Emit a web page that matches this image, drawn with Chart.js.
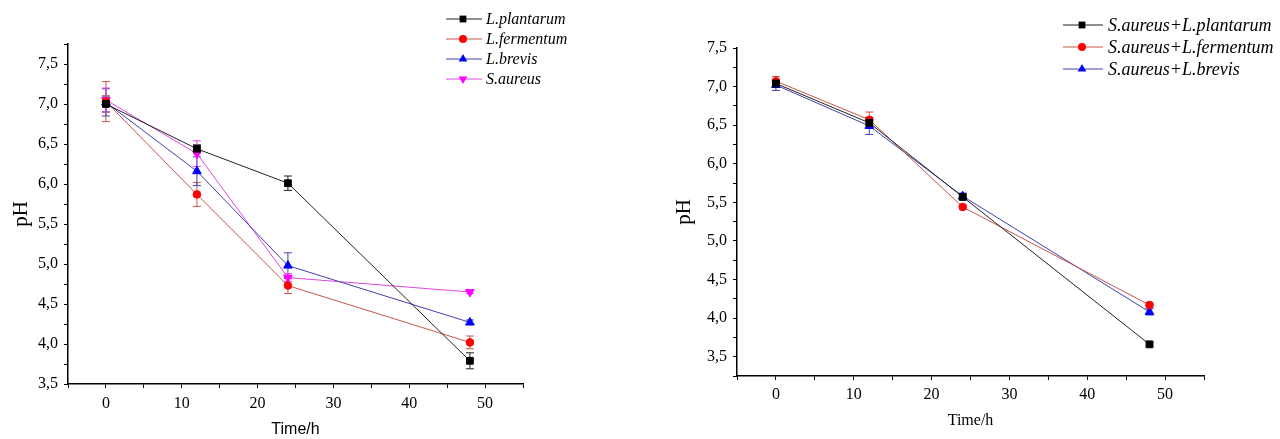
<!DOCTYPE html>
<html>
<head>
<meta charset="utf-8">
<script src="https://cdn.jsdelivr.net/npm/chart.js@4.4.1/dist/chart.umd.min.js"></script>
<style>
  html, body { margin: 0; padding: 0; background: #fff; }
  body { width: 1280px; height: 439px; position: relative; overflow: hidden; }
  canvas { position: absolute; top: 0; }
  .row { position: absolute; display: flex; align-items: center; height: 20px;
         font-family: 'Liberation Serif', serif; font-style: italic; color: #000; white-space: nowrap; }
  .row svg { display: block; }
</style>
</head>
<body>
<canvas id="left" width="640" height="439" style="left:0"></canvas>
<canvas id="right" width="640" height="439" style="left:640px"></canvas>
<div id="legends"></div>
<script>
// sampling times (h)
const times = [0, 12, 24, 48];
const xTickLabels = [0, 10, 20, 30, 40, 50];

// left panel - single cultures
const leftNames = ['L.plantarum', 'L.fermentum', 'L.brevis', 'S.aureus'];
const plantarum    = [7.00, 6.44, 6.01, 3.79];
const plantarumErr = [0.10, 0.05, 0.09, 0.10];
const fermentum    = [7.03, 5.87, 4.73, 4.02];
const fermentumErr = [0.25, 0.15, 0.10, 0.08];
const brevis       = [7.02, 6.16, 4.98, 4.27];
const brevisErr    = [0.17, 0.18, 0.16, 0.03];
const aureus       = [7.05, 6.38, 4.83, 4.65];
const aureusErr    = [0.15, 0.16, 0.05, 0.02];

// right panel - co-cultures
const rightNames = ['S.aureus+L.plantarum', 'S.aureus+L.fermentum', 'S.aureus+L.brevis'];
const coPlantarum    = [7.04, 6.53, 5.57, 3.66];
const coPlantarumErr = [0.05, 0.07, 0.03, 0.02];
const coFermentum    = [7.07, 6.57, 5.44, 4.17];
const coFermentumErr = [0.06, 0.10, 0.03, 0.03];
const coBrevis       = [7.02, 6.49, 5.58, 4.08];
const coBrevisErr    = [0.07, 0.11, 0.04, 0.04];

// look of each series
const STYLES = {
  black:   { line: '#222',             mark: '#000',    shape: 'rect',     rot: 0,   r: 4.8 },
  red:     { line: 'rgb(200,85,75)',   mark: '#ff0000', shape: 'circle',   rot: 0,   r: 3.8 },
  blue:    { line: 'rgb(65,65,175)',   mark: '#0000ff', shape: 'triangle', rot: 0,   r: 5 },
  magenta: { line: 'rgb(225,70,225)',  mark: '#ff00ff', shape: 'triangle', rot: 180, r: 5 }
};

function makeSet(label, values, errors, st) {
  return {
    label,
    data: times.map((t, i) => ({ x: t, y: values[i] })),
    errors,
    borderColor: st.line,
    borderWidth: 1,
    tension: 0,
    pointStyle: st.shape,
    pointRotation: st.rot,
    pointRadius: st.r,
    pointBackgroundColor: st.mark,
    pointBorderColor: st.mark,
    pointBorderWidth: 1
  };
}

// vertical error bars with caps
const errorBars = {
  id: 'errorBars',
  beforeDatasetsDraw(chart) {
    const { ctx } = chart;
    const xs = chart.scales.x, ys = chart.scales.y;
    chart.data.datasets.forEach(ds => {
      ctx.save();
      ctx.strokeStyle = ds.borderColor;
      ctx.lineWidth = 1;
      ds.data.forEach((p, j) => {
        const e = ds.errors[j];
        const px = xs.getPixelForValue(p.x);
        const top = ys.getPixelForValue(p.y + e);
        const bot = ys.getPixelForValue(p.y - e);
        ctx.beginPath();
        ctx.moveTo(px, top); ctx.lineTo(px, bot);
        ctx.moveTo(px - 4, top); ctx.lineTo(px + 4, top);
        ctx.moveTo(px - 4, bot); ctx.lineTo(px + 4, bot);
        ctx.stroke();
      });
      ctx.restore();
    });
  }
};

function pHLabel(v) {
  const twice = v * 2;
  if (Math.abs(twice - Math.round(twice)) > 1e-6) return '';
  return v.toFixed(1).replace('.', ',');
}

function makeChart(id, datasets, g) {
  return new Chart(document.getElementById(id), {
    type: 'line',
    data: { datasets },
    options: {
      responsive: false,
      animation: false,
      layout: { padding: { left: 0, top: g.top, right: g.right, bottom: 0 } },
      plugins: { legend: { display: false }, tooltip: { enabled: false } },
      scales: {
        x: {
          type: 'linear', min: -5, max: 55,
          afterFit: s => { s.height = g.xh; },
          ticks: {
            stepSize: 5, autoSkip: false, maxRotation: 0, padding: g.xpad, color: '#000',
            font: { family: 'Liberation Serif', size: g.tick },
            callback: v => xTickLabels.includes(v) ? String(v) : ''
          },
          grid: { drawOnChartArea: false, tickLength: 4, color: '#000' },
          border: { color: '#000', width: 1.5 },
          title: {
            display: true, text: 'Time/h', color: '#000',
            font: { family: g.xTitleFont, size: 16 },
            padding: { top: 0, bottom: g.xTitlePad }
          }
        },
        y: {
          min: g.ymin, max: g.ymax,
          afterFit: s => { s.width = g.yw; },
          ticks: {
            stepSize: 0.25, autoSkip: false, padding: g.ypad, color: '#000',
            font: { family: 'Liberation Serif', size: g.tick },
            callback: v => pHLabel(v)
          },
          grid: { drawOnChartArea: false, tickLength: 4, color: '#000' },
          border: { color: '#000', width: 1.5 },
          title: {
            display: true, text: 'pH', color: '#000',
            font: { family: 'Liberation Serif', size: g.yTitle },
            padding: { top: g.yTitlePad, bottom: 0 }
          }
        }
      }
    },
    plugins: [errorBars]
  });
}

makeChart('left', [
  makeSet(leftNames[0], plantarum, plantarumErr, STYLES.black),
  makeSet(leftNames[1], fermentum, fermentumErr, STYLES.red),
  makeSet(leftNames[2], brevis, brevisErr, STYLES.blue),
  makeSet(leftNames[3], aureus, aureusErr, STYLES.magenta)
], { top: 44, right: 117, yw: 68, xh: 55, ymin: 3.5, ymax: 7.75, tick: 16,
     xpad: 6, ypad: 6, xTitleFont: 'Liberation Sans', xTitlePad: 0, yTitle: 21, yTitlePad: 9 });

makeChart('right', [
  makeSet(rightNames[0], coPlantarum, coPlantarumErr, STYLES.black),
  makeSet(rightNames[1], coFermentum, coFermentumErr, STYLES.red),
  makeSet(rightNames[2], coBrevis, coBrevisErr, STYLES.blue)
], { top: 48, right: 76, yw: 97, xh: 63, ymin: 3.25, ymax: 7.5, tick: 16,
     xpad: 5, ypad: 6, xTitleFont: 'Liberation Serif', xTitlePad: 9, yTitle: 21, yTitlePad: 32 });

// html legends: line + marker + italic label
function markerSvg(st, cx) {
  const c = st.mark, cy = 10;
  if (st.shape === 'rect') {
    const h = 3.4;
    return `<rect x="${cx - h}" y="${cy - h}" width="${2 * h}" height="${2 * h}" fill="${c}"/>`;
  }
  if (st.shape === 'circle') return `<circle cx="${cx}" cy="${cy}" r="4" fill="${c}"/>`;
  const r = 5, s = st.rot ? -1 : 1;
  const pts = [[cx, cy - s * r], [cx + r * 0.866, cy + s * r / 2], [cx - r * 0.866, cy + s * r / 2]];
  return `<polygon points="${pts.map(p => p.join(',')).join(' ')}" fill="${c}"/>`;
}

function buildLegend(names, styles, geo) {
  const root = document.getElementById('legends');
  names.forEach((name, i) => {
    const st = styles[i];
    const w = geo.x1 - geo.x0;
    const row = document.createElement('div');
    row.className = 'row';
    row.style.left = geo.x0 + 'px';
    row.style.top = (geo.rows[i] - 10) + 'px';
    row.style.fontSize = geo.size + 'px';
    row.innerHTML =
      `<svg width="${w}" height="20"><line x1="0" y1="10" x2="${w}" y2="10" stroke="${st.line}" stroke-width="1"/>` +
      markerSvg(st, geo.mark - geo.x0) + `</svg>` +
      `<span style="margin-left:${geo.text - geo.x1}px">${name}</span>`;
    root.appendChild(row);
  });
}

buildLegend(leftNames, [STYLES.black, STYLES.red, STYLES.blue, STYLES.magenta],
  { x0: 446, x1: 482, mark: 463, text: 486, rows: [19, 39, 59, 79], size: 16 });
buildLegend(rightNames, [STYLES.black, STYLES.red, STYLES.blue],
  { x0: 1063, x1: 1103, mark: 1082, text: 1108, rows: [25, 47, 69], size: 18 });
</script>
</body>
</html>
